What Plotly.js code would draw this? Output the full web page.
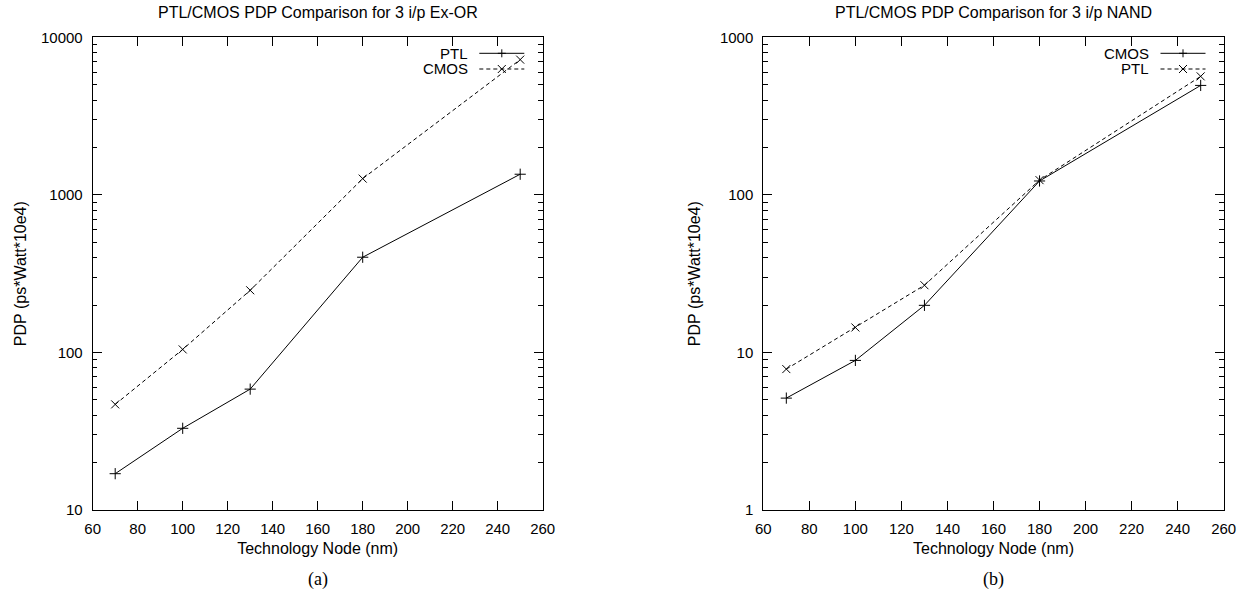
<!DOCTYPE html>
<html>
<head>
<meta charset="utf-8">
<script src="https://cdn.plot.ly/plotly-3.0.1.min.js"></script>
<style>html,body{margin:0;padding:0;background:#fff;}#chart{width:1241px;height:593px;}</style>
</head>
<body>
<div id="chart"></div>
<script>
// ---- data ----
const nodes = [70, 100, 130, 180, 250];
const exorPTL  = [17, 33, 58.5, 402, 1352];
const exorCMOS = [46.8, 104.5, 248, 1268, 7215];
const nandCMOS = [5.13, 8.9, 19.9, 122.5, 495];
const nandPTL  = [7.84, 14.4, 26.7, 124, 565];

const xTickVals = [60, 80, 100, 120, 140, 160, 180, 200, 220, 240, 260];
const yTickValsA = [10, 100, 1000, 10000];
const yTickTextA = ['10', '100', '1000', '10000'];
const yTickValsB = [1, 10, 100, 1000];
const yTickTextB = ['1', '10', '100', '1000'];
const minorA = [20,30,40,50,60,70,80,90,200,300,400,500,600,700,800,900,2000,3000,4000,5000,6000,7000,8000,9000];
const minorB = [2,3,4,5,6,7,8,9,20,30,40,50,60,70,80,90,200,300,400,500,600,700,800,900];

const titleA = 'PTL/CMOS PDP Comparison for 3 i/p Ex-OR';
const titleB = 'PTL/CMOS PDP Comparison for 3 i/p NAND';
const xTitle = 'Technology Node (nm)';
const yTitle = 'PDP (ps*Watt*10e4)';

// ---- geometry (pixels) ----
const W = 1241, H = 593;
const px = v => v / W;
const py = v => 1 - v / H;
const plotTop = 37.3, plotBot = 510;
const A = {l: 92.7, r: 542.7};
const B = {l: 763.3, r: 1223.7};

const FONT = 'Liberation Sans, Arial, Helvetica, sans-serif';
const TICK = 15, TITLE = 16;
const black = '#000';

function solid(x, y, name, xa, ya) {
  return {x, y, name, xaxis: xa, yaxis: ya, type: 'scatter', mode: 'lines+markers',
    line: {color: black, width: 1},
    marker: {symbol: 'cross-thin-open', size: 8, line: {color: black, width: 1}, color: black},
    showlegend: false, hoverinfo: 'x+y+name'};
}
function dashed(x, y, name, xa, ya) {
  return {x, y, name, xaxis: xa, yaxis: ya, type: 'scatter', mode: 'lines+markers',
    line: {color: black, width: 1, dash: '4px,3px'},
    marker: {symbol: 'x-thin-open', size: 8, line: {color: black, width: 1}, color: black},
    showlegend: false, hoverinfo: 'x+y+name'};
}

const traces = [
  solid(nodes, exorPTL, 'PTL', 'x', 'y'),
  dashed(nodes, exorCMOS, 'CMOS', 'x', 'y'),
  solid(nodes, nandCMOS, 'CMOS', 'x2', 'y2'),
  dashed(nodes, nandPTL, 'PTL', 'x2', 'y2')
];

function xax(domain, anchor) {
  return {domain, anchor, range: [60, 260], tickmode: 'array', tickvals: xTickVals,
    ticks: 'inside', ticklen: 9, tickwidth: 1, tickcolor: black,
    showline: true, linecolor: black, linewidth: 1, mirror: 'ticks',
    showgrid: false, zeroline: false, layer: 'above traces',
    ticklabelstandoff: 5,
    tickfont: {family: FONT, size: TICK, color: black},
    title: {text: xTitle, font: {family: FONT, size: TITLE, color: black}, standoff: 6}};
}
function yax(domain, anchor, range, tv, tt, minorVals, standoff) {
  return {domain, anchor, type: 'log', range, tickmode: 'array', tickvals: tv, ticktext: tt,
    ticks: 'inside', ticklen: 9, tickwidth: 1, tickcolor: black,
    minor: {tickmode: 'array', tickvals: minorVals, ticks: 'inside', ticklen: 4.5, tickwidth: 1, tickcolor: black, showgrid: false},
    showline: true, linecolor: black, linewidth: 1, mirror: 'ticks',
    showgrid: false, zeroline: false, layer: 'above traces',
    ticklabelstandoff: 6,
    tickfont: {family: FONT, size: TICK, color: black},
    title: {text: yTitle, font: {family: FONT, size: TITLE, color: black}, standoff}};
}

const yDom = [py(plotBot), py(plotTop)];

// custom legend (text on the left of the sample, as in the reference)
const shapes = [];
const annotations = [];
function legendEntry(textRight, lineL, lineR, yPix, name, isSolid) {
  annotations.push({xref: 'paper', yref: 'paper', x: px(textRight), y: py(yPix),
    xanchor: 'right', yanchor: 'middle', text: name, showarrow: false,
    font: {family: FONT, size: TICK, color: black}});
  shapes.push({type: 'line', xref: 'paper', yref: 'paper', x0: px(lineL), x1: px(lineR),
    y0: py(yPix), y1: py(yPix), line: {color: black, width: 1, dash: isSolid ? 'solid' : '4px,3px'}});
  const cx = (lineL + lineR) / 2;
  if (isSolid) {
    shapes.push({type: 'line', xref: 'paper', yref: 'paper', x0: px(cx - 4), x1: px(cx + 4), y0: py(yPix), y1: py(yPix), line: {color: black, width: 1}});
    shapes.push({type: 'line', xref: 'paper', yref: 'paper', x0: px(cx), x1: px(cx), y0: py(yPix - 4), y1: py(yPix + 4), line: {color: black, width: 1}});
  } else {
    shapes.push({type: 'line', xref: 'paper', yref: 'paper', x0: px(cx - 4), x1: px(cx + 4), y0: py(yPix - 4), y1: py(yPix + 4), line: {color: black, width: 1}});
    shapes.push({type: 'line', xref: 'paper', yref: 'paper', x0: px(cx - 4), x1: px(cx + 4), y0: py(yPix + 4), y1: py(yPix - 4), line: {color: black, width: 1}});
  }
}
legendEntry(469.5, 479.3, 524.3, 53.3, 'PTL', true);
legendEntry(469.5, 479.3, 524.3, 69, 'CMOS', false);
legendEntry(1151, 1160.5, 1205.5, 53.3, 'CMOS', true);
legendEntry(1151, 1160.5, 1205.5, 69, 'PTL', false);

// subplot titles and captions
annotations.push({xref: 'paper', yref: 'paper', x: px((A.l + A.r) / 2), y: py(13), xanchor: 'center', yanchor: 'middle',
  text: titleA, showarrow: false, font: {family: FONT, size: TITLE, color: black}});
annotations.push({xref: 'paper', yref: 'paper', x: px((B.l + B.r) / 2), y: py(13), xanchor: 'center', yanchor: 'middle',
  text: titleB, showarrow: false, font: {family: FONT, size: TITLE, color: black}});
annotations.push({xref: 'paper', yref: 'paper', x: px((A.l + A.r) / 2), y: py(579), xanchor: 'center', yanchor: 'middle',
  text: '(a)', showarrow: false, font: {family: 'Liberation Serif, Times New Roman, serif', size: 18, color: black}});
annotations.push({xref: 'paper', yref: 'paper', x: px((B.l + B.r) / 2), y: py(579), xanchor: 'center', yanchor: 'middle',
  text: '(b)', showarrow: false, font: {family: 'Liberation Serif, Times New Roman, serif', size: 18, color: black}});

const layout = {
  width: W, height: H,
  margin: {l: 0, r: 0, t: 0, b: 0, pad: 0},
  paper_bgcolor: '#fff', plot_bgcolor: '#fff',
  font: {family: FONT, size: TICK, color: black},
  showlegend: false,
  xaxis: xax([px(A.l), px(A.r)], 'y'),
  yaxis: yax(yDom, 'x', [1, 4], yTickValsA, yTickTextA, minorA, 10),
  xaxis2: xax([px(B.l), px(B.r)], 'y2'),
  yaxis2: yax(yDom, 'x2', [0, 3], yTickValsB, yTickTextB, minorB, 15),
  shapes, annotations
};

Plotly.newPlot('chart', traces, layout, {displayModeBar: false, staticPlot: true});
</script>
</body>
</html>
